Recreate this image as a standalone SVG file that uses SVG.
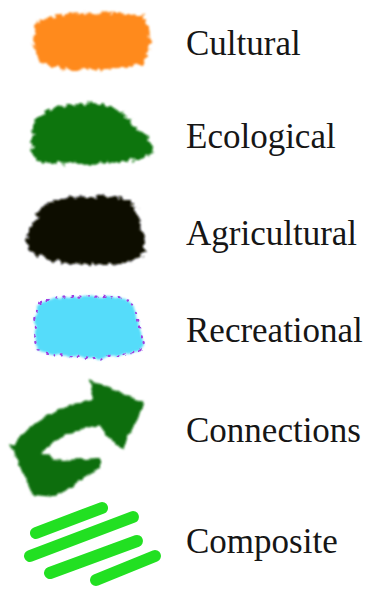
<svg xmlns="http://www.w3.org/2000/svg" width="370" height="589" viewBox="0 0 370 589">
  <defs>
    <filter id="rough" x="-20%" y="-30%" width="140%" height="160%">
      <feTurbulence type="fractalNoise" baseFrequency="0.18" numOctaves="3" seed="4" result="n"/>
      <feDisplacementMap in="SourceGraphic" in2="n" scale="9" xChannelSelector="R" yChannelSelector="G" result="d"/>
      <feGaussianBlur in="d" stdDeviation="1.1"/>
    </filter>
    <filter id="rough2" x="-20%" y="-30%" width="140%" height="160%">
      <feTurbulence type="fractalNoise" baseFrequency="0.12" numOctaves="2" seed="9" result="n"/>
      <feDisplacementMap in="SourceGraphic" in2="n" scale="6" xChannelSelector="R" yChannelSelector="G" result="d"/>
      <feGaussianBlur in="d" stdDeviation="0.9"/>
    </filter>
    <filter id="rough3" x="-20%" y="-30%" width="140%" height="160%">
      <feTurbulence type="fractalNoise" baseFrequency="0.12" numOctaves="2" seed="9" result="n"/>
      <feDisplacementMap in="SourceGraphic" in2="n" scale="6" xChannelSelector="R" yChannelSelector="G"/>
    </filter>
  </defs>
  <style>
    .lbl { font-family: "Liberation Serif", "DejaVu Serif", serif; font-size: 35px; fill: #161616; }
    .comp { stroke: #22e022; stroke-width: 12; stroke-linecap: round; fill: none; }
  </style>
  <rect width="370" height="589" fill="#ffffff"/>

  <g id="cultural">
    <path filter="url(#rough)" fill="#ff8a1c" d="M40,20 C62,10 128,11 144,17 C152,30 153,52 142,64 C112,72 62,71 42,64 C31,50 31,32 40,20 Z"/>
    <text class="lbl" x="186" y="55">Cultural</text>
  </g>

  <g id="ecological">
    <path filter="url(#rough)" fill="#0a740a" d="M34,122 C44,110 58,105 80,104 C100,103 118,106 128,118 C134,128 144,134 153,142 C155,152 148,158 138,160 C110,164 70,165 38,162 C31,156 30,144 32,133 Z"/>
    <text class="lbl" x="186" y="148">Ecological</text>
  </g>

  <g id="agricultural">
    <path filter="url(#rough)" fill="#0a0a06" d="M40,210 C46,200 66,196 90,196 C115,195 130,198 136,210 C140,222 146,236 145,250 C140,262 120,265 90,264 C60,264 38,260 28,248 C24,238 32,226 40,210 Z"/>
    <text class="lbl" x="186" y="245">Agricultural</text>
  </g>

  <g id="recreational">
    <path filter="url(#rough2)" fill="#55dcfa" d="M40,302 C60,295 110,295 130,300 C138,312 140,330 144,345 C142,353 128,355 108,356 C104,360 98,361 92,358 C70,356 48,355 38,350 C34,336 33,318 40,302 Z"/>
    <path filter="url(#rough3)" fill="none" stroke="#a23ee0" stroke-width="2.2" stroke-linecap="round" stroke-dasharray="1 7" d="M40,302 C60,295 110,295 130,300 C138,312 140,330 144,345 C142,353 128,355 108,356 C104,360 98,361 92,358 C70,356 48,355 38,350 C34,336 33,318 40,302 Z"/>
    <text class="lbl" x="186" y="342">Recreational</text>
  </g>

  <g id="connections">
    <g filter="url(#rough2)" fill="#0a6e0a">
      <path d="M22,456 C38,432 62,418 100,412" stroke="#0a6e0a" stroke-width="26" fill="none"/>
      <polygon points="90,380 145,403 123,450 108,437 96,420"/>
      <polygon points="10,443 34,452 63,460 100,458 100,468 55,497 33,495"/>
    </g>
    <text class="lbl" x="186" y="442">Connections</text>
  </g>

  <g id="composite">
    <line class="comp" x1="36" y1="533" x2="102" y2="508"/>
    <line class="comp" x1="30" y1="556" x2="133" y2="517"/>
    <line class="comp" x1="50" y1="573" x2="137" y2="541"/>
    <line class="comp" x1="96" y1="580" x2="155" y2="556"/>
    <text class="lbl" x="186" y="553">Composite</text>
  </g>
</svg>
